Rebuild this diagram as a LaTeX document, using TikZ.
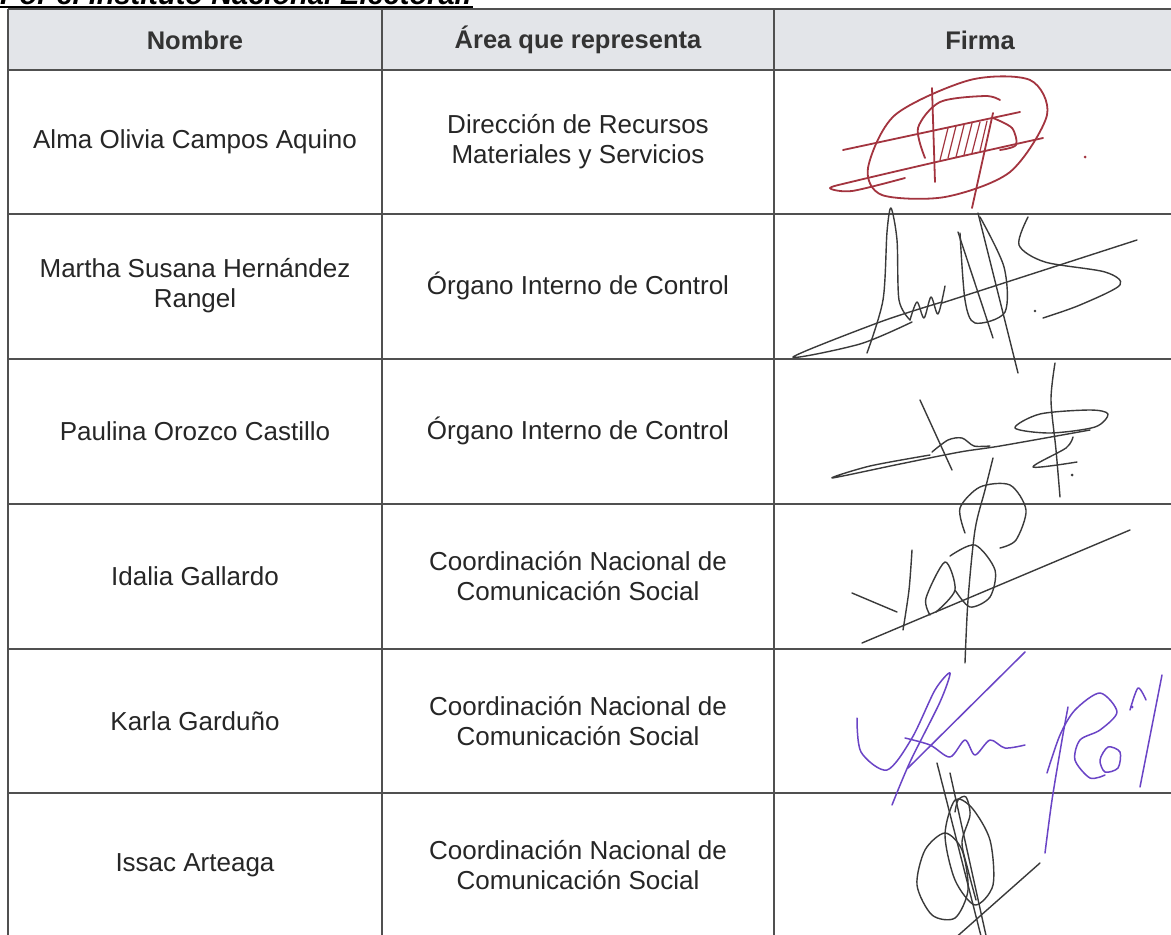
\documentclass[tikz,border=0pt]{standalone}
\usepackage{fontspec}
\setmainfont{Liberation Sans}
\usepackage{tikz}

\definecolor{rule}{HTML}{505050}
\definecolor{headfill}{HTML}{E3E5E9}
\definecolor{inkred}{HTML}{A3343F}
\definecolor{inkdark}{HTML}{3A3A3A}
\definecolor{inkviolet}{HTML}{6A44C6}

\tikzset{
  cell/.style={align=center, font=\fontsize{26}{30}\selectfont, text=black!85},
  headcell/.style={font=\fontsize{25.5}{30}\selectfont\bfseries, text=black!80},
  sigred/.style={inkred, line width=1.8, line cap=round, line join=round},
  sigdark/.style={inkdark, line width=1.4, line cap=round, line join=round},
  sigviolet/.style={inkviolet, line width=1.5, line cap=round, line join=round}
}

\begin{document}
\begin{tikzpicture}[x=1pt, y=-1pt]
    \useasboundingbox (0, 0) rectangle (1171, 935);
    \clip (0, 0) rectangle (1171, 935);
    \fill[white] (0, 0) rectangle (1171, 935);

    % title line, cut by the top edge
    \path (0, 4) node[anchor=base west, inner sep=0, font=\fontsize{29}{34}\selectfont\bfseries\itshape] (title) {Por el Instituto Nacional Electoral:};
    \draw[line width=2] (title.base west) ++(0, 3) -- ++(473, 0);

    % header band
    \fill[headfill] (8, 9) rectangle (1190, 70);

    % rules
    \draw[rule, line width=1.3] (8, 9) -- (1190, 9);
    \draw[rule, line width=1.3] (8, 70) -- (1190, 70);
    \draw[rule, line width=1.1] (8, 214) -- (1190, 214);
    \draw[rule, line width=1.1] (8, 359) -- (1190, 359);
    \draw[rule, line width=1.1] (8, 504) -- (1190, 504);
    \draw[rule, line width=1.1] (8, 649) -- (1190, 649);
    \draw[rule, line width=1.1] (8, 793) -- (1190, 793);
    \draw[rule, line width=1.1] (8, 9) -- (8, 945);
    \draw[rule, line width=1.1] (382, 9) -- (382, 945);
    \draw[rule, line width=1.1] (774, 9) -- (774, 945);

    % header
    \path (195, 40) node[headcell] (hname) {Nombre};
    \path (578, 40) node[headcell] (harea) {Área que representa};
    \path (980, 40) node[headcell] (hsign) {Firma};

    % names
    \path (195, 142) node[cell] (name1) {Alma Olivia Campos Aquino};
    \path (195, 286) node[cell] (name2) {Martha Susana Hernández\\Rangel};
    \path (195, 431) node[cell] (name3) {Paulina Orozco Castillo};
    \path (195, 576) node[cell] (name4) {Idalia Gallardo};
    \path (195, 721) node[cell] (name5) {Karla Garduño};
    \path (195, 865) node[cell] (name6) {Issac Arteaga};

    % areas
    \path (578, 142) node[cell] (area1) {Dirección de Recursos\\Materiales y Servicios};
    \path (578, 286) node[cell] (area2) {Órgano Interno de Control};
    \path (578, 431) node[cell] (area3) {Órgano Interno de Control};
    \path (578, 576) node[cell] (area4) {Coordinación Nacional de\\Comunicación Social};
    \path (578, 721) node[cell] (area5) {Coordinación Nacional de\\Comunicación Social};
    \path (578, 865) node[cell] (area6) {Coordinación Nacional de\\Comunicación Social};

    % signature 1
    \draw[sigred] plot[smooth cycle] coordinates {(868, 168) (895, 115) (970, 80) (1030, 80) (1047, 115) (1010, 172) (945, 197) (882, 195)};
    \draw[sigred] plot[smooth] coordinates {(1043, 138) (945, 160) (855, 181) (830, 188) (852, 191) (905, 178)};
    \draw[sigred] (843, 150) -- (1020, 112);
    \draw[sigred] (932, 88) -- (935, 182);
    \draw[sigred] (993, 113) -- (972, 208);
    \draw[sigred] plot[smooth] coordinates {(925, 158) (918, 128) (940, 102) (985, 96) (1000, 100)};
    \draw[sigred] plot[smooth] coordinates {(993, 118) (1012, 128) (1016, 145) (1000, 150)};
    \draw[sigred, line width=1.2] (940, 160) -- (948, 128);
    \draw[sigred, line width=1.2] (948, 158) -- (956, 126);
    \draw[sigred, line width=1.2] (956, 157) -- (964, 125);
    \draw[sigred, line width=1.2] (964, 155) -- (972, 123);
    \draw[sigred, line width=1.2] (972, 153) -- (980, 122);
    \draw[sigred, line width=1.2] (980, 151) -- (987, 121);
    \fill[inkred] (1085, 157) circle (1.5);

    % signature 2
    \draw[sigdark] plot[smooth] coordinates {(942, 302) (880, 322) (793, 357) (860, 344) (912, 322)};
    \draw[sigdark] plot[smooth] coordinates {(867, 353) (883, 300) (887, 232) (891, 208) (897, 240) (899, 300) (910, 320)};
    \draw[sigdark] plot[smooth] coordinates {(910, 320) (917, 302) (924, 318) (931, 297) (938, 314) (945, 286)};
    \draw[sigdark] (942, 303) -- (1137, 240);
    \draw[sigdark] (958, 232) -- (993, 338);
    \draw[sigdark] (978, 213) -- (1018, 373);
    \draw[sigdark] plot[smooth] coordinates {(960, 233) (965, 300) (975, 323) (1005, 312) (1004, 267) (980, 217)};
    \draw[sigdark] plot[smooth] coordinates {(1028, 217) (1019, 245) (1045, 262) (1105, 272) (1120, 285) (1080, 305) (1043, 318)};
    \fill[inkdark] (1035, 311) circle (1.3);

    % signature 3
    \draw[sigdark] plot[smooth] coordinates {(1090, 430) (1000, 446) (960, 452) (900, 464) (832, 478) (870, 466) (930, 455)};
    \draw[sigdark] (920, 400) -- (952, 470);
    \draw[sigdark] plot[smooth] coordinates {(932, 452) (948, 440) (962, 438) (974, 446) (990, 446)};
    \draw[sigdark] plot[smooth cycle] coordinates {(1015, 428) (1040, 414) (1090, 410) (1108, 414) (1095, 427) (1050, 433)};
    \draw[sigdark] plot[smooth] coordinates {(1055, 363) (1051, 400) (1056, 450) (1060, 497)};
    \draw[sigdark] plot[smooth] coordinates {(1073, 437) (1066, 448) (1033, 467) (1077, 462)};
    \fill[inkdark] (1072, 475) circle (1.5);

    % signature 4
    \draw[sigdark] (862, 643) -- (1130, 530);
    \draw[sigdark] plot[smooth] coordinates {(993, 458) (985, 490) (975, 530) (968, 600) (965, 663)};
    \draw[sigdark] plot[smooth] coordinates {(965, 533) (960, 508) (980, 487) (1010, 485) (1026, 510) (1016, 540) (1000, 548)};
    \draw[sigdark] plot[smooth] coordinates {(852, 593) (878, 604) (897, 612)};
    \draw[sigdark] plot[smooth] coordinates {(912, 550) (909, 590) (903, 630)};
    \draw[sigdark] plot[smooth] coordinates {(930, 615) (926, 598) (945, 562) (955, 590) (936, 612)};
    \draw[sigdark] plot[smooth] coordinates {(950, 556) (975, 545) (995, 570) (990, 597) (970, 607) (955, 590)};

    % signature 5
    \draw[sigviolet] plot[smooth] coordinates {(857, 718) (861, 752) (887, 770) (912, 738) (935, 690) (950, 673) (940, 702) (910, 762) (892, 805)};
    \draw[sigviolet] (908, 768) -- (1025, 652);
    \draw[sigviolet] plot[smooth] coordinates {(905, 738) (930, 745) (950, 757) (965, 740) (975, 755) (990, 740) (1005, 748) (1025, 745)};
    \draw[sigviolet] plot[smooth] coordinates {(1068, 707) (1062, 740) (1052, 800) (1045, 853)};
    \draw[sigviolet] plot[smooth] coordinates {(1047, 773) (1060, 735) (1075, 710) (1100, 693) (1117, 712) (1100, 730) (1080, 740) (1075, 760) (1090, 778) (1105, 775)};
    \draw[sigviolet] plot[smooth cycle] coordinates {(1100, 760) (1108, 747) (1120, 752) (1118, 768) (1105, 772)};
    \draw[sigviolet] (1162, 675) -- (1140, 787);
    \draw[sigviolet] plot[smooth] coordinates {(1130, 710) (1138, 688) (1146, 700)};
    \fill[inkviolet] (1132, 707) circle (1.5);

    % signature 6
    \draw[sigdark] (937, 763) -- (982, 940);
    \draw[sigdark] (950, 773) -- (987, 940);
    \draw[sigdark] plot[smooth cycle] coordinates {(945, 833) (925, 850) (917, 885) (932, 915) (955, 918) (968, 890) (962, 850)};
    \draw[sigdark] plot[smooth cycle] coordinates {(955, 800) (945, 835) (955, 880) (975, 905) (993, 885) (990, 840) (972, 808)};
    \draw[sigdark] plot[smooth] coordinates {(955, 812) (958, 800) (966, 797) (970, 815) (962, 842) (968, 870) (976, 900)};
    \draw[sigdark] (953, 940) -- (1040, 863);
\end{tikzpicture}
\end{document}
